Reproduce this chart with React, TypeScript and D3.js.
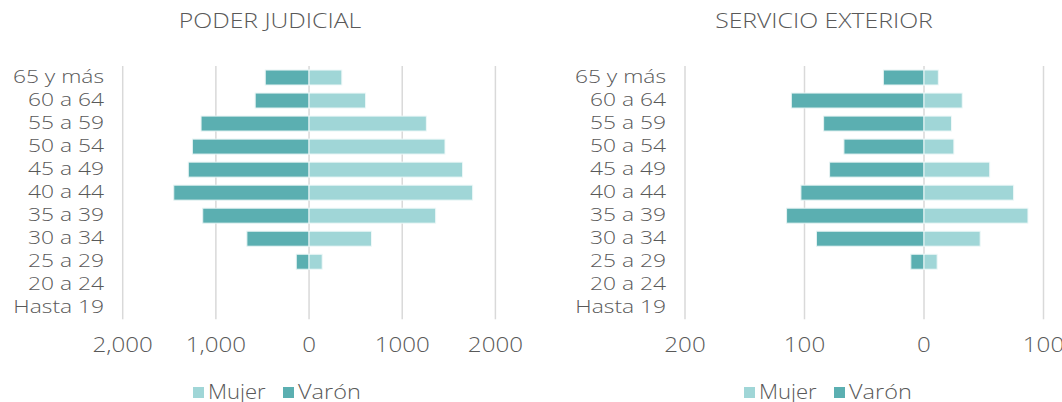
import React from "react";
import * as d3 from "d3";

const categories = ["65 y más", "60 a 64", "55 a 59", "50 a 54", "45 a 49", "40 a 44", "35 a 39", "30 a 34", "25 a 29", "20 a 24", "Hasta 19"];

const pjVaron = [470, 578, 1159, 1252, 1296, 1452, 1141, 667, 137, 0, 0];
const pjMujer = [352, 607, 1259, 1459, 1648, 1756, 1359, 670, 141, 0, 0];

const seVaron = [34, 111, 84, 67, 79, 103, 115, 90, 11, 0, 0];
const seMujer = [12, 32, 23, 25, 55, 75, 87, 47, 11, 0, 0];

const pjTicks = [-2000, -1000, 0, 1000, 2000];
const pjTickLabels = ["2,000", "1,000", "0", "1000", "2000"];
const seTicks = [-200, -100, 0, 100];
const seTickLabels = ["200", "100", "0", "100"];

const legendItems = ["Mujer", "Varón"];

const COL_M = "#A0D6D7";
const COL_V = "#5BAFB1";
const TEXT = "#595959";
const GRID = "#D9D9D9";
const FONT = "'Open Sans', sans-serif";

function T(props: { x: number; y: number; s: number; size: number; anchor?: string; baseline?: string; children: React.ReactNode }) {
  return (
    <text
      transform={`translate(${props.x},${props.y}) scale(${props.s},1)`}
      textAnchor={props.anchor || "start"}
      dominantBaseline={props.baseline || "auto"}
      fontSize={props.size}
      fill={TEXT}
      fontFamily={FONT}
      fontWeight={300}
    >
      {props.children}
    </text>
  );
}

type PanelProps = {
  title: string;
  titleX: number;
  domain: [number, number];
  range: [number, number];
  ticks: number[];
  tickLabels: string[];
  varon: number[];
  mujer: number[];
  labelX: number;
  legendX: number;
};

function Panel(p: PanelProps) {
  const x = d3.scaleLinear().domain(p.domain).range(p.range);
  const y = d3.scaleBand<string>().domain(categories).range([66, 319.3]).paddingInner(0.35).paddingOuter(0.175);
  const bw = y.bandwidth();
  return (
    <g>
      <T x={p.titleX} y={28} s={1.18} size={21} anchor="middle">{p.title}</T>
      {p.ticks.map((t, i) => (
        <g key={"t" + i}>
          <line x1={x(t)} x2={x(t)} y1={66} y2={319.3} stroke={GRID} strokeWidth={1.5} />
          <T x={x(t)} y={346} s={1.15} size={21} anchor="middle" baseline="middle">{p.tickLabels[i]}</T>
        </g>
      ))}
      {categories.map((c, i) => (
        <g key={c}>
          <T x={p.labelX} y={(y(c) as number) + bw / 2} s={1.2} size={19} anchor="end" baseline="middle">{c}</T>
          {p.varon[i] > 0 && (
            <rect x={x(-p.varon[i])} y={y(c)} width={x(0) - x(-p.varon[i])} height={bw} fill={COL_V} stroke="#E6F3F3" strokeWidth={1} />
          )}
          {p.mujer[i] > 0 && (
            <rect x={x(0)} y={y(c)} width={x(p.mujer[i]) - x(0)} height={bw} fill={COL_M} stroke="#EEF8F8" strokeWidth={1} />
          )}
        </g>
      ))}
      <g>
        <rect x={p.legendX} y={387} width={11} height={11} fill={COL_M} />
        <T x={p.legendX + 15} y={399} s={1.05} size={21}>{legendItems[0]}</T>
        <rect x={p.legendX + 90} y={387} width={11} height={11} fill={COL_V} />
        <T x={p.legendX + 105} y={399} s={1.12} size={21}>{legendItems[1]}</T>
      </g>
    </g>
  );
}

export default function App() {
  return (
    <svg width={1062} height={402} style={{ position: "absolute", left: 0, top: 0, background: "#fff" }}>
      <Panel
        title="PODER JUDICIAL"
        titleX={270}
        domain={[-2000, 2000]}
        range={[122.7, 495.4]}
        ticks={pjTicks}
        tickLabels={pjTickLabels}
        varon={pjVaron}
        mujer={pjMujer}
        labelX={104}
        legendX={193}
      />
      <Panel
        title="SERVICIO EXTERIOR"
        titleX={824}
        domain={[-200, 100]}
        range={[685, 1043.5]}
        ticks={seTicks}
        tickLabels={seTickLabels}
        varon={seVaron}
        mujer={seMujer}
        labelX={666}
        legendX={744}
      />
    </svg>
  );
}
